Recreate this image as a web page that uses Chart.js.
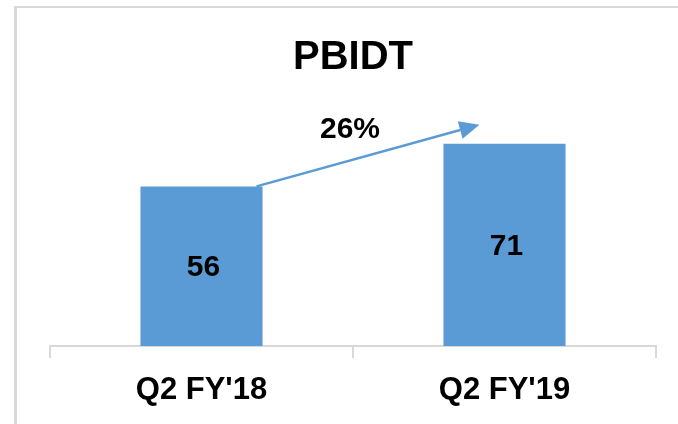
<!DOCTYPE html>
<html>
<head>
<meta charset="utf-8">
<script src="https://cdn.jsdelivr.net/npm/chart.js@4"></script>
<style>
  html, body { margin: 0; padding: 0; background: #fff; }
  #wrap { position: relative; width: 678px; height: 424px; overflow: hidden; }
  #frame {
    position: absolute; left: 14px; top: 6px; width: 700px; height: 450px;
    border-top: 2px solid #d9d9d9; border-left: 3px solid #d9d9d9;
  }
  #chart { position: absolute; left: 0; top: 0; }
</style>
</head>
<body>
<div id="wrap">
  <div id="frame"></div>
  <canvas id="chart" width="678" height="424"></canvas>
</div>
<script>
const categories = ["Q2 FY'18", "Q2 FY'19"];
const values = [56, 71];
const growthLabel = '26%';

const BLUE = '#5B9BD5';
const GREY = '#d9d9d9';
const FONT = "'Liberation Sans', Arial, sans-serif";

// value labels inside bars + growth arrow between them
const annotate = {
  id: 'annotate',
  afterDatasetsDraw(chart) {
    const ctx = chart.ctx;
    const bars = chart.getDatasetMeta(0).data;
    ctx.save();
    ctx.font = 'bold 30px ' + FONT;
    ctx.fillStyle = '#000';
    ctx.textAlign = 'center';
    ctx.textBaseline = 'middle';
    bars.forEach((b, i) => {
      ctx.fillText(values[i], b.x + 2, (b.y + b.base) / 2 + 2);
    });

    const a = bars[0], c = bars[1];
    const x1 = a.x + a.width / 2 - 6, y1 = a.y;
    const x2 = c.x - c.width / 2 + 36, y2 = c.y - 19;
    const ang = Math.atan2(y2 - y1, x2 - x1);
    const hl = 20, hw = 9;
    ctx.strokeStyle = BLUE;
    ctx.fillStyle = BLUE;
    ctx.lineWidth = 2.5;
    ctx.beginPath();
    ctx.moveTo(x1, y1);
    ctx.lineTo(x2 - hl * Math.cos(ang), y2 - hl * Math.sin(ang));
    ctx.stroke();
    ctx.beginPath();
    ctx.moveTo(x2, y2);
    ctx.lineTo(x2 - hl * Math.cos(ang) + hw * Math.sin(ang), y2 - hl * Math.sin(ang) - hw * Math.cos(ang));
    ctx.lineTo(x2 - hl * Math.cos(ang) - hw * Math.sin(ang), y2 - hl * Math.sin(ang) + hw * Math.cos(ang));
    ctx.closePath();
    ctx.fill();

    ctx.fillStyle = '#000';
    ctx.fillText(growthLabel, (x1 + x2) / 2 - 18, (y1 + y2) / 2 - 26);
    ctx.restore();
  }
};

new Chart(document.getElementById('chart'), {
  type: 'bar',
  data: {
    labels: categories,
    datasets: [{
      data: values,
      backgroundColor: BLUE,
      borderWidth: 0,
      categoryPercentage: 1,
      barPercentage: 0.403
    }]
  },
  options: {
    responsive: false,
    animation: false,
    layout: { padding: { left: 50, right: 22, top: 0, bottom: 0 } },
    plugins: {
      legend: { display: false },
      tooltip: { enabled: false },
      title: {
        display: true,
        text: 'PBIDT',
        color: '#000',
        font: { family: FONT, size: 40, weight: 'bold', lineHeight: 1.2 },
        padding: { top: 34, bottom: 36 }
      }
    },
    scales: {
      x: {
        offset: true,
        grid: { display: true, drawOnChartArea: false, offset: true, tickLength: 12, color: GREY, lineWidth: 2 },
        border: { display: true, color: GREY, width: 2 },
        ticks: { color: '#000', padding: 14, font: { family: FONT, size: 31, weight: 'bold' } },
        afterFit(scale) { scale.height = 78; }
      },
      y: {
        display: false,
        min: 0,
        max: 80
      }
    }
  },
  plugins: [annotate]
});
</script>
</body>
</html>
